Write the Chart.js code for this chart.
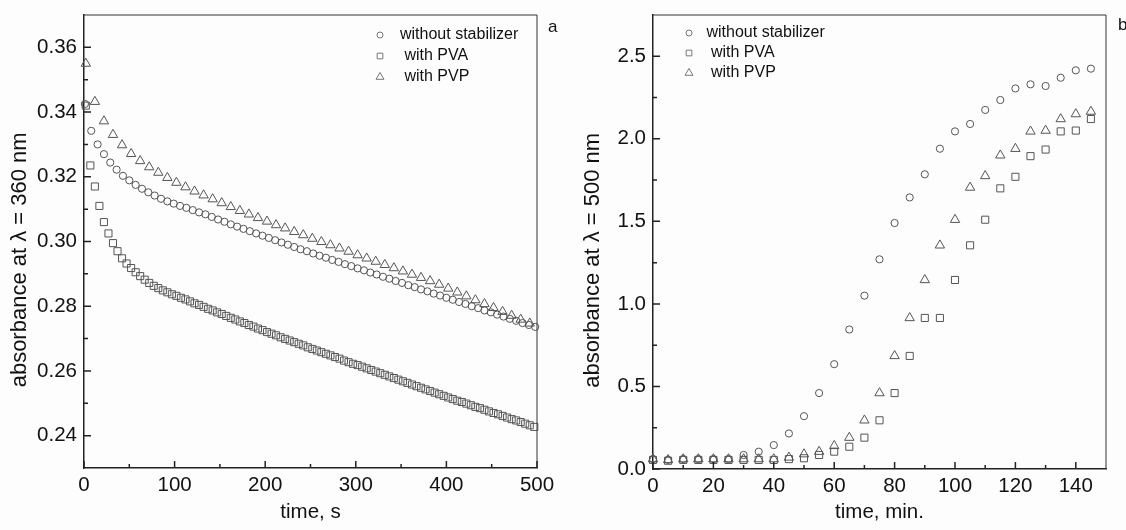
<!DOCTYPE html>
<html>
<head>
<meta charset="utf-8">
<script src="https://cdn.jsdelivr.net/npm/chart.js@4.4.0/dist/chart.umd.min.js"></script>
<style>
  body { margin: 0; background: #fdfdfd; }
  .panel { position: absolute; top: 0; width: 563px; height: 530px; }
  #panel-a { left: 0; }
  #panel-b { left: 563px; }
</style>
</head>
<body>
<div class="panel" id="panel-a"><canvas id="chartA"></canvas></div>
<div class="panel" id="panel-b"><canvas id="chartB"></canvas></div>
<script>
const seriesNames = ['without stabilizer', ' with PVA', ' with PVP'];

// ---- panel a: absorbance at 360 nm, time in s ----
const secNoStab = [1, 8, 15, 22, 29, 36, 43, 50, 57, 64, 71, 78, 85, 92, 99, 106, 113, 120, 127, 134,
  141, 148, 155, 162, 169, 176, 183, 190, 197, 204, 211, 218, 225, 232, 239, 246, 253, 260, 267, 274,
  281, 288, 295, 302, 309, 316, 323, 330, 337, 344, 351, 358, 365, 372, 379, 386, 393, 400, 407, 414,
  421, 428, 435, 442, 449, 456, 463, 470, 477, 484, 491, 498];
const absNoStab = [0.3425, 0.3342, 0.3300, 0.3270, 0.3244, 0.3222, 0.3203, 0.3189, 0.3175, 0.3163,
  0.3152, 0.3142, 0.3132, 0.3124, 0.3117, 0.3110, 0.3104, 0.3097, 0.3090, 0.3084,
  0.3076, 0.3068, 0.3061, 0.3053, 0.3046, 0.3039, 0.3032, 0.3025, 0.3018, 0.3011,
  0.3004, 0.2997, 0.2990, 0.2983, 0.2976, 0.2970, 0.2963, 0.2956, 0.2950, 0.2943,
  0.2937, 0.2930, 0.2924, 0.2917, 0.2911, 0.2904, 0.2898, 0.2891, 0.2885, 0.2878,
  0.2872, 0.2865, 0.2859, 0.2852, 0.2846, 0.2839, 0.2833, 0.2826, 0.2820, 0.2813,
  0.2807, 0.2800, 0.2794, 0.2787, 0.2781, 0.2774, 0.2768, 0.2761, 0.2755, 0.2748,
  0.2742, 0.2736];

const secPVA = [2, 7, 12, 17, 22, 27, 32, 37, 42, 47, 52, 57, 62, 67, 72, 77, 82, 87, 92, 97,
  102, 107, 112, 117, 122, 127, 132, 137, 142, 147, 152, 157, 162, 167, 172, 177, 182, 187, 192, 197,
  202, 207, 212, 217, 222, 227, 232, 237, 242, 247, 252, 257, 262, 267, 272, 277, 282, 287, 292, 297,
  302, 307, 312, 317, 322, 327, 332, 337, 342, 347, 352, 357, 362, 367, 372, 377, 382, 387, 392, 397,
  402, 407, 412, 417, 422, 427, 432, 437, 442, 447, 452, 457, 462, 467, 472, 477, 482, 487, 492, 497];
const absPVA = [0.3420, 0.3235, 0.3170, 0.3110, 0.3060, 0.3025, 0.2995, 0.2970, 0.2948, 0.2932,
  0.2918, 0.2905, 0.2893, 0.2882, 0.2872, 0.2863, 0.2856, 0.2849, 0.2843, 0.2837,
  0.2832, 0.2826, 0.2821, 0.2815, 0.2809, 0.2804, 0.2798, 0.2792, 0.2787, 0.2781,
  0.2776, 0.2770, 0.2764, 0.2759, 0.2753, 0.2748, 0.2742, 0.2737, 0.2731, 0.2726,
  0.2720, 0.2715, 0.2710, 0.2704, 0.2699, 0.2694, 0.2689, 0.2684, 0.2679, 0.2673,
  0.2668, 0.2663, 0.2658, 0.2653, 0.2648, 0.2643, 0.2638, 0.2632, 0.2627, 0.2622,
  0.2618, 0.2613, 0.2608, 0.2603, 0.2598, 0.2593, 0.2588, 0.2583, 0.2578, 0.2573,
  0.2568, 0.2563, 0.2558, 0.2553, 0.2548, 0.2543, 0.2538, 0.2533, 0.2528, 0.2523,
  0.2518, 0.2513, 0.2508, 0.2504, 0.2499, 0.2494, 0.2489, 0.2485, 0.2480, 0.2475,
  0.2470, 0.2466, 0.2461, 0.2456, 0.2451, 0.2447, 0.2442, 0.2437, 0.2432, 0.2427];

const secPVP = [2, 12, 22, 32, 42, 52, 62, 72, 82, 92, 102, 112, 122, 132, 142, 152, 162, 172, 182, 192,
  202, 212, 222, 232, 242, 252, 262, 272, 282, 292, 302, 312, 322, 332, 342, 352, 362, 372, 382, 392,
  402, 412, 422, 432, 442, 452, 462, 472, 482, 492];
const absPVP = [0.3550, 0.3432, 0.3372, 0.3330, 0.3298, 0.3271, 0.3249, 0.3230, 0.3213, 0.3197,
  0.3182, 0.3168, 0.3155, 0.3143, 0.3131, 0.3119, 0.3107, 0.3095, 0.3084, 0.3073,
  0.3062, 0.3051, 0.3041, 0.3030, 0.3020, 0.3009, 0.2999, 0.2989, 0.2979, 0.2969,
  0.2958, 0.2948, 0.2938, 0.2928, 0.2918, 0.2908, 0.2898, 0.2888, 0.2878, 0.2867,
  0.2855, 0.2843, 0.2831, 0.2819, 0.2807, 0.2795, 0.2783, 0.2771, 0.2759, 0.2747];

const xTicksA = [0, 100, 200, 300, 400, 500];
const yTicksA = [0.24, 0.26, 0.28, 0.30, 0.32, 0.34, 0.36];

// ---- panel b: absorbance at 500 nm, time in min ----
const minutes = [0, 5, 10, 15, 20, 25, 30, 35, 40, 45, 50, 55, 60, 65, 70,
  75, 80, 85, 90, 95, 100, 105, 110, 115, 120, 125, 130, 135, 140, 145];
const abs500NoStab = [0.06, 0.055, 0.06, 0.06, 0.06, 0.06, 0.085, 0.105, 0.145, 0.215,
  0.32, 0.46, 0.635, 0.845, 1.05, 1.27, 1.49, 1.645, 1.785, 1.94,
  2.045, 2.09, 2.175, 2.235, 2.305, 2.33, 2.32, 2.37, 2.415, 2.425];
const abs500PVA = [0.055, 0.05, 0.055, 0.055, 0.055, 0.055, 0.055, 0.055, 0.055, 0.06,
  0.065, 0.085, 0.105, 0.135, 0.19, 0.295, 0.46, 0.685, 0.915, 0.915,
  1.145, 1.355, 1.51, 1.70, 1.77, 1.895, 1.935, 2.045, 2.05, 2.12];
const abs500PVP = [0.06, 0.055, 0.06, 0.06, 0.06, 0.06, 0.06, 0.06, 0.06, 0.07,
  0.09, 0.105, 0.14, 0.19, 0.295, 0.46, 0.685, 0.915, 1.145, 1.355,
  1.51, 1.705, 1.775, 1.90, 1.94, 2.045, 2.05, 2.12, 2.15, 2.165];

const xTicksB = [0, 20, 40, 60, 80, 100, 120, 140];
const yTicksB = [0, 0.5, 1.0, 1.5, 2.0, 2.5];

const FONT = '"Liberation Sans", Arial, Helvetica, sans-serif';
Chart.defaults.font.family = FONT;
Chart.defaults.color = '#111';

const MARKS = [
  { pointStyle: 'circle', radius: 3.6, key: 3 },
  { pointStyle: 'rect', radius: 5, key: 4 },
  { pointStyle: 'triangle', radius: 5.4, key: 4.6 }
];

// trailing blanks push the rotated title down, as in the original
const titlePad = '\u00a0\u00a0\u00a0\u00a0\u00a0\u00a0';

const pts = (xs, ys) => xs.map((x, i) => ({ x: x, y: ys[i] }));

function makeDatasets(xsList, ysList) {
  return ysList.map((ys, i) => ({
    label: seriesNames[i],
    data: pts(xsList[i], ys),
    pointStyle: MARKS[i].pointStyle,
    pointRadius: MARKS[i].radius,
    pointHoverRadius: MARKS[i].radius,
    pointBorderColor: '#555',
    pointBackgroundColor: 'rgba(0,0,0,0)',
    pointBorderWidth: 1,
    showLine: false,
    clip: false
  }));
}

function makeScales(cfg) {
  return {
    x: {
      type: 'linear',
      min: cfg.xMin,
      max: cfg.xMax,
      afterBuildTicks: s => { s.ticks = cfg.xTicks.map(v => ({ value: v })); },
      afterFit: s => { s.height = cfg.xHeight; },
      grid: { display: false, drawTicks: false },
      border: { display: true, color: '#222', width: 1.5 },
      ticks: { padding: 5, autoSkip: false, maxRotation: 0, font: { size: 20.5 }, color: '#111' },
      title: { display: true, text: cfg.xTitle, color: '#111', font: { size: 20.5 }, padding: { top: 0, bottom: 5 } }
    },
    y: {
      type: 'linear',
      min: cfg.yMin,
      max: cfg.yMax,
      afterBuildTicks: s => { s.ticks = cfg.yTicks.map(v => ({ value: v })); },
      afterFit: s => { s.width = cfg.yWidth; s.paddingTop = 0; s.paddingBottom = 0; },
      grid: { display: false, drawTicks: false },
      border: { display: true, color: '#222', width: 1.5 },
      ticks: {
        padding: 7, autoSkip: false, font: { size: 20.5 }, color: '#111',
        callback: v => Number(v).toFixed(cfg.decimals)
      },
      title: { display: true, text: cfg.yTitle + titlePad, color: '#111', font: { size: 22 }, padding: { top: cfg.yTitlePad, bottom: 0 } }
    }
  };
}

// frame on top/right, inward ticks, symbol key and panel tag
const decor = {
  id: 'decor',
  afterDraw(chart, args, opts) {
    const { ctx, chartArea: a } = chart;
    const { x, y } = chart.scales;
    ctx.save();
    ctx.strokeStyle = '#333';
    ctx.lineWidth = 1;
    ctx.beginPath();
    ctx.moveTo(a.left, a.top);
    ctx.lineTo(a.right, a.top);
    ctx.lineTo(a.right, a.bottom);
    ctx.stroke();

    ctx.strokeStyle = '#222';
    ctx.lineWidth = 1.5;
    const xv = x.ticks.map(t => t.value);
    const yv = y.ticks.map(t => t.value);
    ctx.beginPath();
    xv.forEach((v, i) => {
      const px = x.getPixelForValue(v);
      ctx.moveTo(px, a.bottom); ctx.lineTo(px, a.bottom - 7);
      if (i > 0) {
        const mx = x.getPixelForValue((v + xv[i - 1]) / 2);
        ctx.moveTo(mx, a.bottom); ctx.lineTo(mx, a.bottom - 4);
      }
    });
    yv.forEach((v, i) => {
      const py = y.getPixelForValue(v);
      ctx.moveTo(a.left, py); ctx.lineTo(a.left + 7, py);
      if (i > 0) {
        const my = y.getPixelForValue((v + yv[i - 1]) / 2);
        ctx.moveTo(a.left, my); ctx.lineTo(a.left + 4, my);
      }
    });
    ctx.stroke();

    // key
    ctx.font = '16px ' + FONT;
    ctx.textBaseline = 'middle';
    ctx.textAlign = 'left';
    chart.data.datasets.forEach((ds, i) => {
      const cx = a.left + opts.keyX;
      const cy = a.top + opts.keyY + i * opts.keyGap;
      ctx.strokeStyle = '#777';
      ctx.fillStyle = 'rgba(0,0,0,0)';
      ctx.lineWidth = 1;
      Chart.helpers.drawPoint(ctx, { pointStyle: MARKS[i].pointStyle, radius: MARKS[i].key, rotation: 0, borderWidth: 1 }, cx, cy);
      ctx.fillStyle = '#111';
      ctx.fillText(ds.label, cx + opts.textGap, cy);
    });

    ctx.font = '17px ' + FONT;
    ctx.fillStyle = '#111';
    ctx.fillText(opts.tag, opts.tagX, opts.tagY);
    ctx.restore();
  }
};

new Chart(document.getElementById('chartA'), {
  type: 'scatter',
  data: { datasets: makeDatasets([secNoStab, secPVA, secPVP], [absNoStab, absPVA, absPVP]) },
  options: {
    responsive: true,
    maintainAspectRatio: false,
    animation: false,
    layout: { padding: { top: 15, right: 26, bottom: 0, left: 0 } },
    scales: makeScales({
      xMin: 0, xMax: 500, xTicks: xTicksA, xHeight: 62, xTitle: 'time, s',
      yMin: 0.23, yMax: 0.37, yTicks: yTicksA, yWidth: 84, decimals: 2,
      yTitle: 'absorbance at λ = 360 nm', yTitlePad: 7
    }),
    plugins: {
      legend: { display: false },
      tooltip: { enabled: false },
      decor: { keyX: 296, keyY: 20, keyGap: 21, textGap: 20, tag: 'a', tagX: 548, tagY: 27 }
    }
  },
  plugins: [decor]
});

new Chart(document.getElementById('chartB'), {
  type: 'scatter',
  data: { datasets: makeDatasets([minutes, minutes, minutes], [abs500NoStab, abs500PVA, abs500PVP]) },
  options: {
    responsive: true,
    maintainAspectRatio: false,
    animation: false,
    layout: { padding: { top: 15, right: 20, bottom: 0, left: 0 } },
    scales: makeScales({
      xMin: 0, xMax: 150, xTicks: xTicksB, xHeight: 61, xTitle: 'time, min.',
      yMin: 0, yMax: 2.75, yTicks: yTicksB, yWidth: 90, decimals: 1,
      yTitle: 'absorbance at λ = 500 nm', yTitlePad: 17
    }),
    plugins: {
      legend: { display: false },
      tooltip: { enabled: false },
      decor: { keyX: 36, keyY: 18, keyGap: 20, textGap: 17.5, tag: 'b', tagX: 555, tagY: 25 }
    }
  },
  plugins: [decor]
});
</script>
</body>
</html>
